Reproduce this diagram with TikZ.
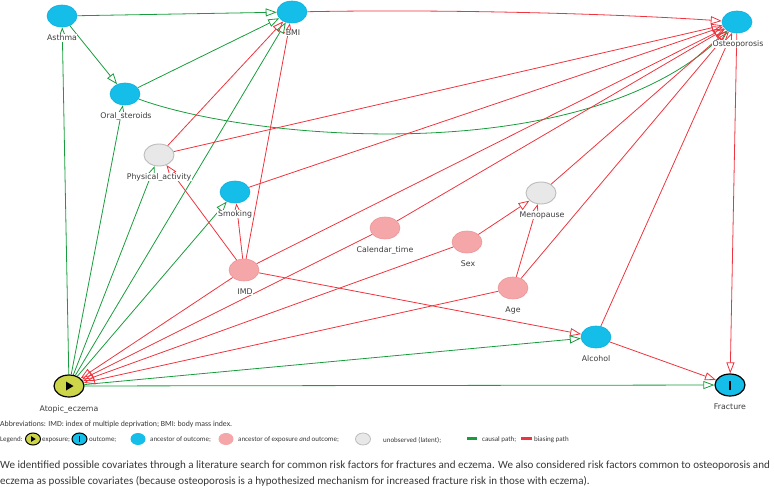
\documentclass[tikz,border=0pt]{standalone}
\usepackage{fontspec}
\setmainfont{Carlito}
\newfontfamily\labelfont{DejaVu Sans}
\usetikzlibrary{shapes.geometric,arrows.meta}
\definecolor{cgreen}{RGB}{24,156,60}
\definecolor{cred}{RGB}{238,52,62}
\definecolor{cyanF}{RGB}{20,190,232}
\definecolor{cyanD}{RGB}{16,176,220}
\definecolor{pinkF}{RGB}{245,166,168}
\definecolor{pinkD}{RGB}{236,150,154}
\definecolor{greyF}{RGB}{232,232,232}
\definecolor{greyD}{RGB}{188,188,188}
\definecolor{yelF}{RGB}{205,214,72}
\definecolor{lblC}{RGB}{60,60,60}
\definecolor{txtC}{RGB}{55,55,55}
\begin{document}
\begin{tikzpicture}[x=1pt,y=-1pt,
  var/.style={ellipse, minimum width=30pt, minimum height=22pt, inner sep=0pt, line width=0.6pt},
  anc/.style={var, draw=cyanD, fill=cyanF},
  conf/.style={var, draw=pinkD, fill=pinkF},
  latent/.style={var, draw=greyD, fill=greyF, line width=0.9pt},
  expo/.style={var, draw=black, fill=yelF, line width=1.2pt},
  outc/.style={var, draw=black, fill=cyanF, line width=1.2pt},
  lbl/.style={font=\labelfont\fontsize{7.8}{9}\selectfont, text=lblC, fill=white, inner sep=0.6pt},
  causal/.style={draw=cgreen, line width=0.8pt, -{Triangle[open,length=11pt,width=8pt]}},
  bias/.style={draw=cred, line width=0.8pt, -{Triangle[open,length=11pt,width=8pt]}},
  legsym/.style={ellipse, minimum width=15pt, minimum height=12pt, inner sep=0pt, line width=0.6pt},
  legtxt/.style={anchor=west, inner sep=0pt, font=\fontsize{7}{8}\selectfont, text=txtC},
  abbrtxt/.style={anchor=west, inner sep=0pt, font=\fontsize{7.8}{9}\selectfont, text=txtC},
  bodytxt/.style={anchor=west, inner sep=0pt, font=\fontsize{11.05}{13}\selectfont, text=txtC}
]
\useasboundingbox (0,0) rectangle (774,487);

% nodes
\node[anc] (asthma) at (62,16) {};
\node[anc] (bmi) at (292,12) {};
\node[anc] (osteo) at (737,22) {};
\node[anc] (oral) at (125,94) {};
\node[latent] (phys) at (159,155) {};
\node[anc] (smoking) at (235,192) {};
\node[conf] (cal) at (385,228) {};
\node[latent] (meno) at (541,193) {};
\node[conf] (sex) at (467,242) {};
\node[conf] (age) at (513,288) {};
\node[conf] (imd) at (244,270) {};
\node[anc] (alcohol) at (596,337) {};
\node[expo] (atopic) at (69,386) {};
\node[outc] (fracture) at (730,385) {};
\fill ([shift={(-3,-4.5)}]atopic.center) -- ++(7.5,4.5) -- ++(-7.5,4.5) -- cycle;
\fill ([shift={(-1.4,-4.5)}]fracture.center) rectangle ++(2.8,9);

% causal edges
\draw[causal] (asthma) -- (bmi);
\draw[causal] (asthma) -- (oral);
\draw[causal] (oral) -- (bmi);
\draw[causal] (oral) .. controls (250,140) and (580,170) .. (osteo);
\draw[causal] (atopic) -- (asthma);
\draw[causal] (atopic) -- (oral);
\draw[causal] (atopic) -- (phys);
\draw[causal] (atopic) -- (bmi);
\draw[causal] (atopic) -- (smoking);
\draw[causal] (atopic) -- (alcohol);
\draw[causal] (atopic) -- (fracture);

% biasing edges
\draw[bias] (bmi) .. controls (450,9) and (620,14) .. (osteo);
\draw[bias] (phys) -- (bmi);
\draw[bias] (phys) -- (osteo);
\draw[bias] (smoking) -- (osteo);
\draw[bias] (imd) -- (bmi);
\draw[bias] (imd) -- (phys);
\draw[bias] (imd) -- (smoking);
\draw[bias] (imd) -- (osteo);
\draw[bias] (imd) -- (alcohol);
\draw[bias] (imd) -- (atopic);
\draw[bias] (cal) -- (osteo);
\draw[bias] (cal) -- (atopic);
\draw[bias] (sex) -- (meno);
\draw[bias] (sex) -- (atopic);
\draw[bias] (meno) -- (osteo);
\draw[bias] (age) -- (meno);
\draw[bias] (age) -- (osteo);
\draw[bias] (age) -- (atopic);
\draw[bias] (alcohol) -- (osteo);
\draw[bias] (alcohol) -- (fracture);
\draw[bias] (osteo) -- (fracture);

% labels
\node[lbl] (asthmaL) at (62,38) {Asthma};
\node[lbl] (bmiL) at (293,33) {BMI};
\node[lbl] (osteoL) at (738,44) {Osteoporosis};
\node[lbl] (oralL) at (126,116) {Oral\_steroids};
\node[lbl] (physL) at (159,177) {Physical\_activity};
\node[lbl] (smokingL) at (235,214) {Smoking};
\node[lbl] (calL) at (385,250) {Calendar\_time};
\node[lbl] (menoL) at (542,215) {Menopause};
\node[lbl] (sexL) at (468,264) {Sex};
\node[lbl] (ageL) at (513,310) {Age};
\node[lbl] (imdL) at (245,292) {IMD};
\node[lbl] (alcoholL) at (596,359) {Alcohol};
\node[lbl] (atopicL) at (69,409) {Atopic\_eczema};
\node[lbl] (fractureL) at (730,407) {Fracture};

% caption & legend
\node[abbrtxt] (abbr) at (0,424) {Abbreviations: IMD: index of multiple deprivation; BMI: body mass index.};
\node[legtxt] (legL) at (0,440) {Legend:};
\node[legsym, draw=black, fill=yelF, line width=1pt] (legE) at (33,439) {};
\fill ([shift={(-1.8,-2.8)}]legE.center) -- ++(4.5,2.8) -- ++(-4.5,2.8) -- cycle;
\node[legtxt] (legEt) at (42,440) {exposure;};
\node[legsym, draw=black, fill=cyanF, line width=1pt] (legO) at (79.5,439) {};
\fill ([shift={(-0.9,-2.8)}]legO.center) rectangle ++(1.8,5.6);
\node[legtxt] (legOt) at (89,440) {outcome;};
\node[legsym, fill=cyanF] (legA) at (138,439) {};
\node[legtxt] (legAt) at (150,440) {ancestor of outcome;};
\node[legsym, fill=pinkF] (legC) at (226,439) {};
\node[legtxt] (legCt) at (238,440) {ancestor of exposure \emph{and} outcome;};
\node[legsym, draw=greyD, fill=greyF, line width=0.8pt] (legU) at (363,439) {};
\node[legtxt] (legUt) at (383,440) {unobserved (latent);};
\node[fill=cgreen, minimum width=10pt, minimum height=3pt, inner sep=0pt] (legG) at (472,438) {};
\node[legtxt] (legGt) at (482,440) {causal path;};
\node[fill=cred, minimum width=11pt, minimum height=3pt, inner sep=0pt] (legR) at (526,438) {};
\node[legtxt] (legRt) at (534,440) {biasing path};

\node[bodytxt] (body1) at (0,466) {We identified possible covariates through a literature search for common risk factors for fractures and eczema. We also considered risk factors common to osteoporosis and};
\node[bodytxt] (body2) at (0,481) {eczema as possible covariates (because osteoporosis is a hypothesized mechanism for increased fracture risk in those with eczema).};
\end{tikzpicture}
\end{document}
